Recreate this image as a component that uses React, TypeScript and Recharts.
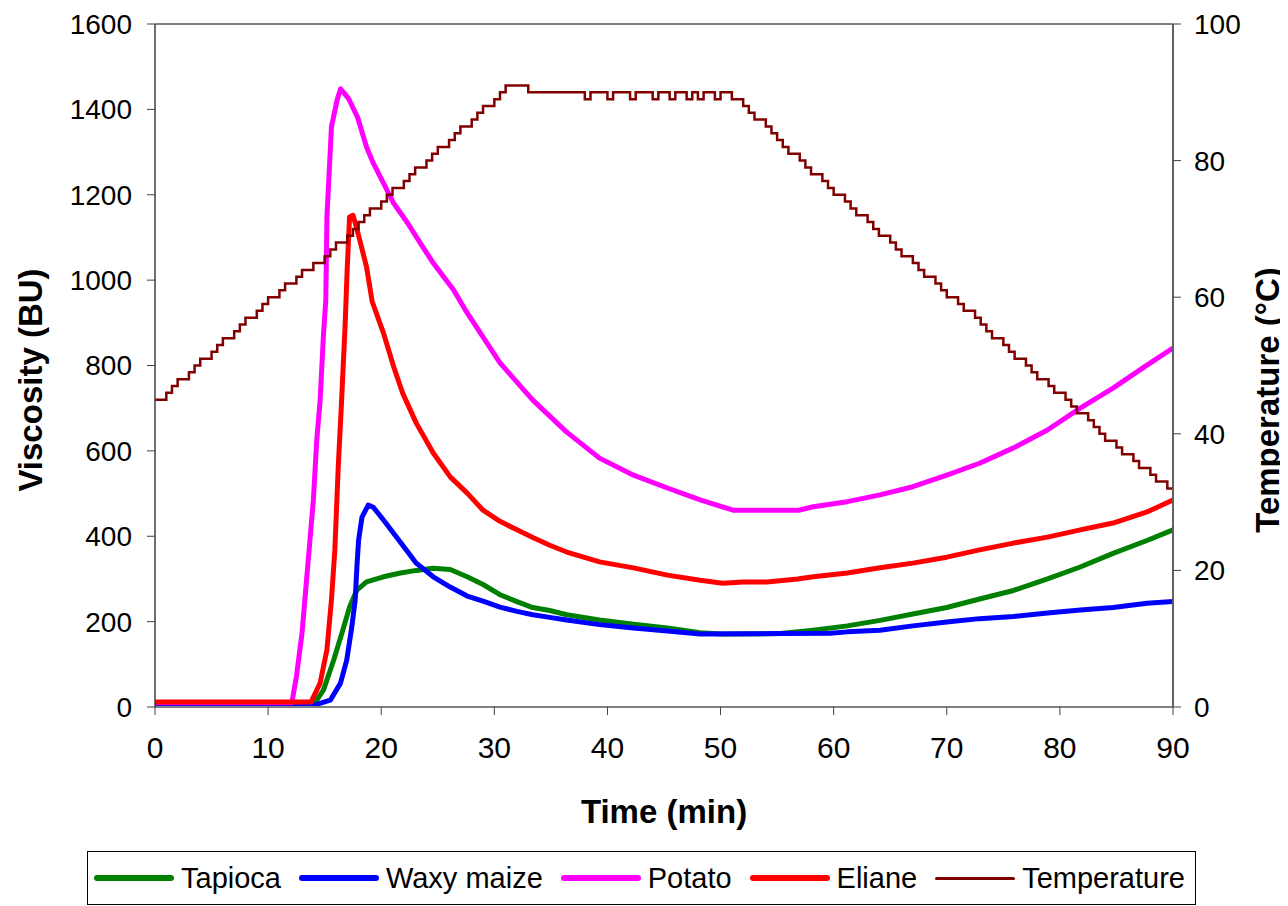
import React from 'react';
import { LineChart, Line, XAxis, YAxis, ReferenceLine } from 'recharts';

const FONT = '"Liberation Sans", Arial, Helvetica, sans-serif';

// time (min) / viscosity (BU)
const tapiocaMin = [0, 14.0, 14.9, 15.8, 16.6, 17.2, 17.85, 18.7, 20.2, 21.7, 23.1, 24.6, 26.1, 27.6, 29.0, 30.5, 32, 33.4, 34.9, 36.4, 39.3, 42.3, 45.3, 48.2, 50, 55.3, 58.2, 61.2, 64.1, 67, 70, 72.9, 75.9, 78.9, 81.8, 84.7, 87.7, 90];
const tapiocaBU = [4, 4, 40, 110, 180, 234, 274, 293, 305, 314, 320, 325, 322, 305, 287, 263, 247, 233, 226, 216, 204, 194, 185, 174, 171, 172, 180, 190, 203, 218, 233, 253, 273, 300, 328, 360, 390, 415];

const waxyMin = [0, 14.0, 15.5, 16.4, 16.95, 17.4, 17.7, 17.85, 18.0, 18.3, 18.85, 19.3, 20.2, 21.7, 23.1, 24.6, 26.1, 27.6, 29.0, 30.5, 32, 33.4, 34.9, 36.4, 39.3, 42.3, 45.3, 48.2, 55.3, 59.7, 61.2, 64.1, 67, 70, 72.9, 75.9, 78.9, 81.8, 84.7, 87.7, 90];
const waxyBU = [4, 4, 16, 56, 110, 188, 251, 328, 391, 445, 473, 468, 438, 386, 337, 305, 281, 260, 248, 234, 224, 216, 210, 204, 193, 185, 178, 171, 172, 173, 176, 180, 190, 199, 207, 212, 220, 227, 233, 243, 247];

const potatoMin = [0, 12.1, 12.5, 13.0, 13.3, 13.7, 14.0, 14.3, 14.6, 14.9, 15.1, 15.2, 15.6, 16.1, 16.4, 17.1, 17.9, 18.7, 19.3, 20.2, 21.1, 22.3, 23.5, 24.6, 26.4, 27.6, 30.5, 33.4, 36.4, 39.3, 42.3, 45.3, 48.2, 51.1, 56.9, 58.2, 61.2, 64.1, 67.0, 70, 72.9, 75.9, 78.9, 81.8, 84.7, 87.7, 90];
const potatoBU = [10, 10, 71, 173, 267, 391, 485, 625, 719, 876, 953, 1148, 1359, 1422, 1448, 1426, 1382, 1312, 1274, 1227, 1180, 1135, 1085, 1040, 977, 923, 806, 719, 644, 583, 543, 513, 485, 461, 461, 469, 481, 497, 516, 543, 571, 607, 649, 700, 747, 801, 841];

const elianeMin = [0, 13.8, 14.6, 15.2, 15.6, 15.9, 16.2, 16.5, 16.8, 17.0, 17.2, 17.5, 17.8, 18.1, 18.7, 19.2, 20.2, 21.1, 21.9, 23.1, 24.6, 26.1, 27.6, 29.0, 30.5, 32.0, 33.4, 34.9, 36.4, 39.3, 42.3, 45.3, 48.2, 50.2, 52, 54.1, 56.8, 58.2, 61.2, 64.1, 67, 70, 72.9, 75.9, 78.9, 81.8, 84.7, 87.7, 90];
const elianeBU = [12, 12, 56, 134, 251, 368, 562, 719, 890, 1031, 1148, 1152, 1125, 1094, 1031, 950, 876, 797, 735, 665, 595, 539, 501, 461, 435, 415, 397, 379, 363, 340, 326, 309, 297, 290, 293, 293, 300, 305, 314, 326, 337, 351, 368, 384, 398, 415, 431, 457, 485];

// temperature program (°C), stepped readings
const tempMin = [
  0, 0.5, 1, 1.5, 2, 2.5, 3, 3.5, 4, 4.5, 5, 5.5, 6, 6.5, 7, 7.5, 8, 8.5, 9, 9.5,
  10, 10.5, 11, 11.5, 12, 12.5, 13, 13.5, 14, 14.5, 15, 15.5, 16, 16.5, 17, 17.5, 18, 18.5, 19, 19.5,
  20, 20.5, 21, 21.5, 22, 22.5, 23, 23.5, 24, 24.5, 25, 25.5, 26, 26.5, 27, 27.5, 28, 28.5, 29, 29.5,
  30, 30.5, 31, 33, 38, 38.5, 40, 40.5, 42, 42.5, 44, 44.5, 45.5, 46, 47, 47.5, 48, 48.5, 49.5, 50,
  51, 52, 52.5, 53, 54, 54.5, 55, 55.5, 56, 57, 57.5, 58, 59, 59.5, 60, 61, 61.5, 62, 63, 63.5, 64,
  65, 65.5, 66, 67, 67.5, 68, 69, 69.5, 70, 71, 71.5, 72.5, 73, 73.5, 74, 75, 75.5, 76, 77, 77.5, 78,
  79, 79.5, 80.5, 81, 81.5, 82.5, 83, 83.5, 84, 85, 85.5, 86.5, 87, 88, 88.5, 89.5, 90,
];
const tempC = [
  45, 45, 46, 47, 48, 48, 49, 50, 51, 51, 52, 53, 54, 54, 55, 56, 57, 57, 58, 59,
  60, 60, 61, 62, 62, 63, 64, 64, 65, 65, 66, 67, 68, 68, 69, 70, 71, 72, 73, 73,
  74, 75, 76, 76, 77, 78, 79, 79, 80, 81, 82, 82, 83, 84, 85, 85, 86, 87, 88, 88,
  89, 90, 91, 90, 89, 90, 89, 90, 89, 90, 89, 90, 89, 90, 89, 90, 89, 90, 89, 90,
  89, 88, 87, 86, 85, 84, 83, 82, 81, 80, 79, 78, 77, 76, 75, 74, 73, 72, 71, 70, 69,
  68, 67, 66, 65, 64, 63, 62, 61, 60, 59, 58, 57, 56, 55, 54, 53, 52, 51, 50, 49, 48,
  47, 46, 45, 44, 43, 42, 41, 40, 39, 38, 37, 36, 35, 34, 33, 32, 32,
];

const xTicks = [0, 10, 20, 30, 40, 50, 60, 70, 80, 90];
const buTicks = [0, 200, 400, 600, 800, 1000, 1200, 1400, 1600];
const tempTicks = [0, 20, 40, 60, 80, 100];

const rows = (ts: number[], vs: number[]) => ts.map((t, i) => ({ t, v: vs[i] }));

const series = [
  { name: 'Tapioca', color: '#008000', data: rows(tapiocaMin, tapiocaBU) },
  { name: 'Waxy maize', color: '#0000FF', data: rows(waxyMin, waxyBU) },
  { name: 'Potato', color: '#FF00FF', data: rows(potatoMin, potatoBU) },
  { name: 'Eliane', color: '#FF0000', data: rows(elianeMin, elianeBU) },
];
const tempData = rows(tempMin, tempC);

const titleStyle = { fontFamily: FONT, fontSize: 33, fontWeight: 700, fill: '#000' };

function Legend() {
  const items = [...series.map((s) => ({ name: s.name, color: s.color, h: 6 })), { name: 'Temperature', color: '#800000', h: 3 }];
  return (
    <div
      style={{
        boxSizing: 'border-box',
        marginLeft: 79,
        marginTop: 13,
        width: 1109,
        height: 54,
        border: '1px solid #000',
        display: 'flex',
        alignItems: 'center',
        justifyContent: 'space-between',
        padding: '0 10px 0 6px',
        fontFamily: FONT,
        fontSize: 29,
        color: '#000',
        whiteSpace: 'nowrap',
      }}
    >
      {items.map((it) => (
        <div key={it.name} style={{ display: 'flex', alignItems: 'center', flexShrink: 0 }}>
          <span style={{ display: 'inline-block', width: 80, height: it.h, borderRadius: 3, background: it.color, marginRight: 7 }} />
          <span>{it.name}</span>
        </div>
      ))}
    </div>
  );
}

export default function App() {
  return (
    <div style={{ width: 1280 }}>
      <LineChart width={1280} height={830} margin={{ top: 16, right: 0, bottom: 0, left: 0 }}>
        <XAxis
          dataKey="t"
          type="number"
          domain={[0, 90]}
          ticks={xTicks}
          height={131}
          tickSize={8}
          tickMargin={22}
          axisLine={{ stroke: '#808080', strokeWidth: 2 }}
          tickLine={{ stroke: '#404040' }}
          tick={{ fill: '#000', fontSize: 30, fontFamily: FONT }}
          label={() => (
            <text x={656} y={815} textAnchor="middle" style={titleStyle}>
              Time (min)
            </text>
          )}
        />
        <YAxis
          yAxisId="bu"
          domain={[0, 1600]}
          ticks={buTicks}
          width={147}
          tickSize={8}
          tickMargin={15}
          axisLine={{ stroke: '#404040', strokeWidth: 1.5 }}
          tickLine={{ stroke: '#404040' }}
          tick={{ fill: '#000', fontSize: 28, fontFamily: FONT }}
          label={() => (
            <text x={22} y={372} transform="rotate(-90 22 372)" textAnchor="middle" dominantBaseline="central" style={titleStyle}>
              Viscosity (BU)
            </text>
          )}
        />
        <YAxis
          yAxisId="temp"
          orientation="right"
          domain={[0, 100]}
          ticks={tempTicks}
          width={115}
          tickSize={8}
          tickMargin={13}
          axisLine={{ stroke: '#606060', strokeWidth: 2 }}
          tickLine={{ stroke: '#404040' }}
          tick={{ fill: '#000', fontSize: 28, fontFamily: FONT }}
          label={() => (
            <text x={1259} y={392} transform="rotate(-90 1259 392)" textAnchor="middle" dominantBaseline="central" style={titleStyle}>
              Temperature (°C)
            </text>
          )}
        />
        <ReferenceLine yAxisId="bu" y={1600} stroke="#808080" strokeWidth={2} />
        {series.map((s) => (
          <Line
            key={s.name}
            yAxisId="bu"
            data={s.data}
            dataKey="v"
            name={s.name}
            type="linear"
            stroke={s.color}
            strokeWidth={5}
            strokeLinejoin="round"
            dot={false}
            isAnimationActive={false}
          />
        ))}
        <Line
          yAxisId="temp"
          data={tempData}
          dataKey="v"
          name="Temperature"
          type="stepAfter"
          stroke="#800000"
          strokeWidth={2.5}
          dot={false}
          isAnimationActive={false}
        />
      </LineChart>
      <Legend />
    </div>
  );
}
